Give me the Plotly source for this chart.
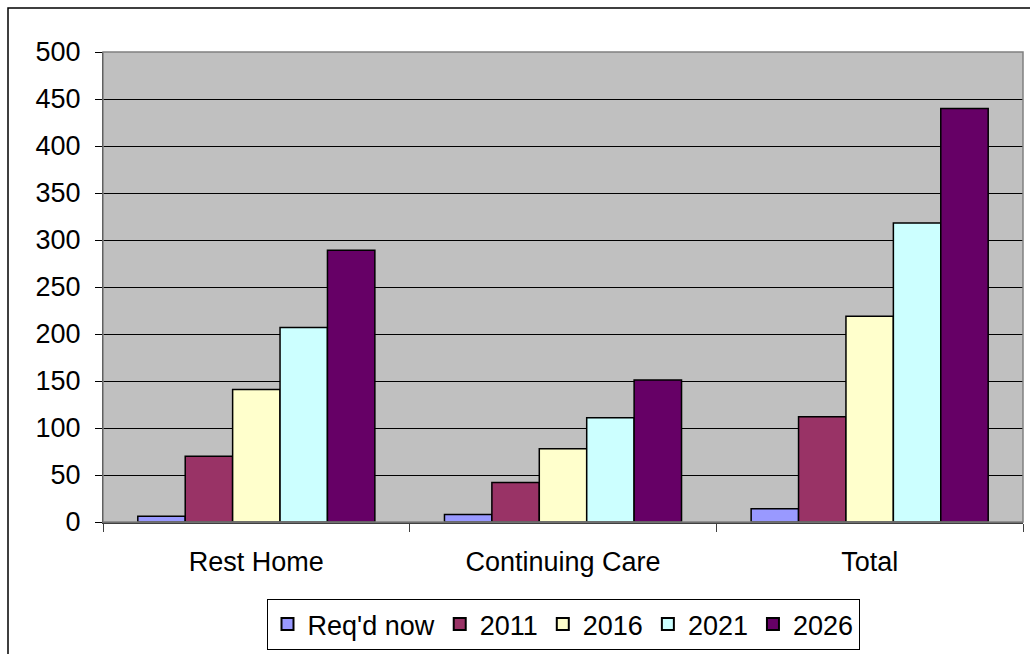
import plotly.graph_objects as go

categories = ["Rest Home", "Continuing Care", "Total"]
series_names = ["Req'd now", "2011", "2016", "2021", "2026"]
reqd_now = [6, 8, 14]
y2011 = [70, 42, 112]
y2016 = [141, 78, 219]
y2021 = [207, 111, 318]
y2026 = [289, 151, 440]
series_values = [reqd_now, y2011, y2016, y2021, y2026]
colors = ["#9999FF", "#993366", "#FFFFCC", "#CCFFFF", "#660066"]
y_ticks = list(range(0, 501, 50))

FONT = "Liberation Sans, Arial, sans-serif"

fig = go.Figure()
for name, vals, col in zip(series_names, series_values, colors):
    fig.add_trace(go.Bar(
        name=name, x=categories, y=vals,
        marker=dict(color=col, line=dict(color="black", width=1.5)),
    ))

W, H = 1030, 654
L, R, T, B = 103, 7, 52, 132
pw, ph = W - L - R, H - T - B

def px_x(p):
    return (p - L) / pw

def px_y(p):
    return (H - B - p) / ph

fig.update_layout(
    width=W, height=H,
    margin=dict(l=L, r=R, t=T, b=B, autoexpand=False),
    paper_bgcolor="white",
    plot_bgcolor="#C0C0C0",
    barmode="group",
    bargap=0.227,
    bargroupgap=0,
    font=dict(family=FONT, size=27, color="black"),
    showlegend=True,
    legend=dict(
        orientation="h",
        x=0.5, xanchor="center",
        y=px_y(650), yanchor="bottom",
        bordercolor="black", borderwidth=1,
        bgcolor="white",
        font=dict(family=FONT, size=27, color="black"),
        traceorder="normal",
        itemsizing="constant",
    ),
    xaxis=dict(
        automargin=False,
        showgrid=False,
        showline=True, linecolor="#404040", linewidth=2,
        ticks="outside", tickson="boundaries", ticklen=8, tickcolor="#404040",
        ticklabelstandoff=15,
        tickfont=dict(family=FONT, size=27),
    ),
    yaxis=dict(
        automargin=False,
        range=[0, 500], tickvals=y_ticks, fixedrange=True,
        showgrid=True, gridcolor="black", gridwidth=1,
        showline=True, linecolor="black", linewidth=1,
        ticks="outside", ticklen=7, tickcolor="black",
        ticklabelstandoff=9,
        tickfont=dict(family=FONT, size=27),
        zeroline=False,
    ),
    shapes=[
        # plot-area frame
        dict(type="rect", xref="paper", yref="paper", x0=0, x1=1, y0=0, y1=1,
             line=dict(color="#808080", width=1.5), layer="above"),
        # outer chart frame
        dict(type="rect", xref="paper", yref="paper",
             x0=px_x(8), x1=px_x(1040), y0=px_y(8), y1=px_y(670),
             line=dict(color="black", width=1.5)),
    ],
)

fig.write_html("out.html")
